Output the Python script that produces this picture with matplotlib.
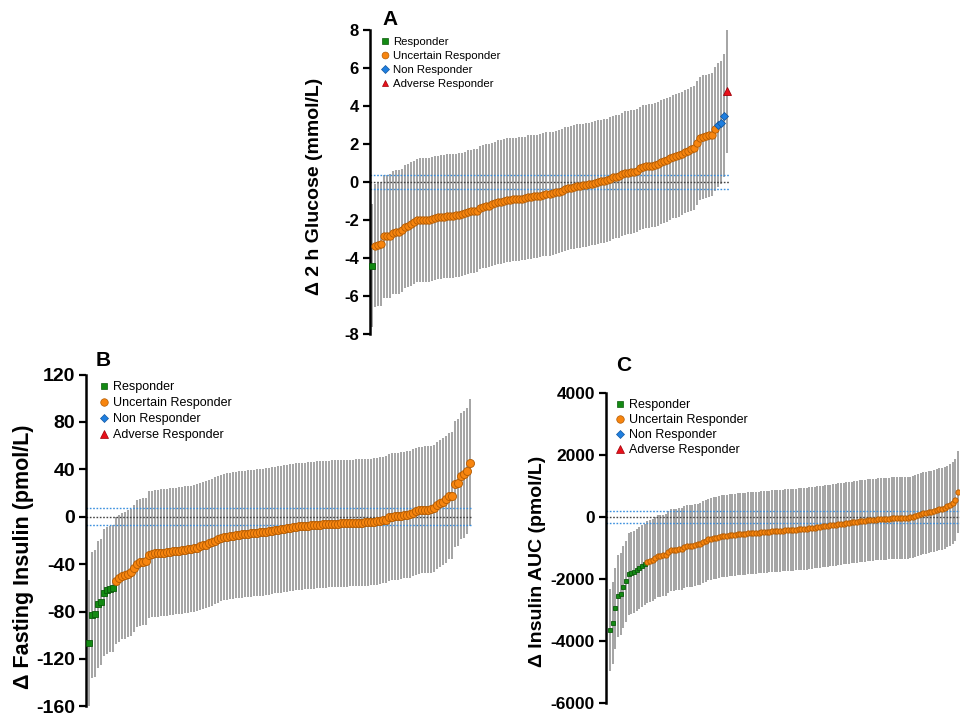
import numpy as np
import matplotlib
matplotlib.use("Agg")
import matplotlib.pyplot as plt
from matplotlib.lines import Line2D

plt.rcParams['font.family'] = ['Liberation Sans', 'DejaVu Sans']
plt.rcParams['axes.unicode_minus'] = False

# ---- data (sorted individual responses) ----
# Panel A: change in 2 h glucose (mmol/L)
a_responder = [-4.4]
a_uncertain = [-3.35, -3.3, -3.25, -2.86, -2.86, -2.84, -2.66, -2.64, -2.62, -2.55,
               -2.35, -2.3, -2.22, -2.12, -2.02, -2.0, -2.0, -2.0, -2.0, -1.95,
               -1.9, -1.86, -1.84, -1.82, -1.8, -1.78, -1.78, -1.76, -1.74, -1.7,
               -1.65, -1.58, -1.54, -1.52, -1.5, -1.35, -1.3, -1.26, -1.24, -1.18,
               -1.12, -1.06, -1.04, -1.0, -0.96, -0.94, -0.92, -0.91, -0.9, -0.88,
               -0.86, -0.8, -0.78, -0.76, -0.75, -0.72, -0.66, -0.64, -0.62, -0.6,
               -0.55, -0.5, -0.45, -0.38, -0.33, -0.3, -0.26, -0.22, -0.2, -0.18,
               -0.15, -0.12, -0.08, -0.05, 0.0, 0.03, 0.05, 0.08, 0.15, 0.25,
               0.28, 0.3, 0.4, 0.48, 0.5, 0.52, 0.55, 0.6, 0.72, 0.8,
               0.82, 0.84, 0.86, 0.9, 0.95, 1.05, 1.1, 1.15, 1.25, 1.33,
               1.36, 1.42, 1.5, 1.6, 1.65, 1.75, 1.8, 2.05, 2.3, 2.38,
               2.4, 2.45, 2.5, 2.78]
a_non = [3.0, 3.12, 3.5]
a_adverse = [4.78]
a_ci = 3.25          # half width of each individual's interval
a_band = 0.35        # dotted threshold lines

# Panel B: change in fasting insulin (pmol/L)
b_responder = [-107, -83, -82, -74, -72, -64, -62, -61, -60.5]
b_uncertain = [-54, -52, -50, -49.5, -48, -47, -43.5, -39.5, -38.5, -38,
               -37.5, -32, -31.5, -31, -30.8, -30.5, -30.3, -30, -29.5, -29.2,
               -29, -28.6, -28.3, -28, -27.6, -27.2, -26.8, -26, -25, -24.2,
               -23.5, -22.6, -21.5, -20.2, -19, -18, -17.2, -16.8, -16.3, -15.9,
               -15.5, -15.2, -14.9, -14.6, -14.3, -14, -13.7, -13.4, -13.2, -13,
               -12.7, -12.3, -11.8, -11.3, -10.9, -10.5, -10.1, -9.7, -9.3, -9.0,
               -8.6, -8.2, -8.0, -7.8, -7.6, -7.3, -7.1, -6.9, -6.7, -6.5,
               -6.3, -6.1, -6.0, -5.9, -5.8, -5.7, -5.6, -5.5, -5.4, -5.3,
               -5.2, -5.1, -5.0, -4.8, -4.6, -4.4, -4.1, -3.8, -3.3, -2.8,
               -2.4, -0.5, 0, 0.2, 0.5, 1.0, 1.4, 1.6, 2.0, 3.4,
               4.5, 5.5, 5.6, 5.8, 6.0, 6.4, 7.2, 9.5, 11.3, 12.5,
               14.7, 17.5, 17.8, 27.6, 28.8, 34.3, 35.8, 38.6, 45.6]
b_non = []
b_adverse = []
b_ci = 53.5
b_band = 7.0

# Panel C: change in insulin AUC (pmol/L)
c_responder = [-3650, -3430, -2950, -2560, -2490, -2260, -2080, -1850, -1800, -1770,
               -1700, -1640, -1590, -1530]
c_uncertain = [-1450, -1420, -1400, -1310, -1265, -1255, -1240, -1225, -1120, -1070,
               -1055, -1050, -1040, -1030, -960, -945, -935, -925, -905, -885,
               -860, -815, -765, -725, -700, -685, -665, -645, -625, -612,
               -600, -590, -580, -570, -560, -548, -540, -535, -528, -522,
               -515, -508, -500, -492, -485, -475, -468, -462, -455, -450,
               -442, -436, -430, -422, -415, -410, -405, -400, -395, -385,
               -375, -365, -352, -340, -325, -312, -305, -295, -285, -272,
               -262, -250, -238, -225, -212, -200, -188, -175, -162, -150,
               -140, -128, -118, -108, -97, -90, -82, -75, -68, -62,
               -55, -50, -45, -43, -42, -40, -38, -35, -30, -15,
               0, 25, 55, 85, 118, 135, 155, 175, 195, 220,
               245, 270, 300, 340, 390, 460, 540, 800]
c_non = []
c_adverse = []
c_ci = 1320
c_band = 200

groups = ['Responder', 'Uncertain Responder', 'Non Responder', 'Adverse Responder']
styles = {
    'Responder': dict(marker='s', mfc='#138a13', mec='#0a5a0a'),
    'Uncertain Responder': dict(marker='o', mfc='#f7850f', mec='#b35a00'),
    'Non Responder': dict(marker='D', mfc='#1f7fe0', mec='#1458a0'),
    'Adverse Responder': dict(marker='^', mfc='#e8101a', mec='#a00008'),
}

W, H = 960, 715


def panel(rect_px, series, ci, band, ylim, yticks, ylabel, letter, letter_px,
          leg_px, msize, leg_font, leg_space, first_px, last_px, lbl_size, lbl_xy, tick_size):
    l, t, r, b = rect_px
    ax = fig.add_axes([l / W, 1 - b / H, (r - l) / W, (b - t) / H])
    vals = np.concatenate([np.asarray(s, float) for s in series])
    n = len(vals)
    x = np.arange(n)
    # pixel -> data mapping along x so first/last points sit where they do in the picture
    step = (last_px - first_px) / (n - 1)
    ax.set_xlim((l - first_px) / step, (n - 1) + (r - last_px) / step)
    ax.set_ylim(*ylim)

    ax.vlines(x, vals - ci, vals + ci, color='#8c8c8c', lw=1.1, zorder=2)
    ax.axhline(0, color='#444444', lw=1.0, ls=(0, (1.2, 1.2)), zorder=2.5)
    ax.axhline(band, color='#3b8fde', lw=1.0, ls=(0, (1.2, 1.2)), zorder=2.5)
    ax.axhline(-band, color='#3b8fde', lw=1.0, ls=(0, (1.2, 1.2)), zorder=2.5)

    start = 0
    for name, s in zip(groups, series):
        if len(s):
            xs = x[start:start + len(s)]
            st = styles[name]
            k = 0.85 if st['marker'] == 's' else (0.75 if st['marker'] == 'D' else 1.0)
            ax.plot(xs, s, ls='none', marker=st['marker'], mfc=st['mfc'], mec=st['mec'],
                    mew=0.6, ms=msize * k, zorder=4, clip_on=False)
        start += len(s)

    for sp in ['top', 'right', 'bottom']:
        ax.spines[sp].set_visible(False)
    ax.spines['left'].set_linewidth(1.8)
    ax.set_xticks([])
    ax.set_yticks(yticks)
    ax.tick_params(axis='y', direction='out', length=5, width=1.6, labelsize=tick_size, pad=3)
    for lab in ax.get_yticklabels():
        lab.set_fontweight('bold')
    ax.set_ylabel(ylabel, fontsize=lbl_size, fontweight='bold')
    ax.yaxis.set_label_coords((lbl_xy[0] - l) / (r - l), (b - lbl_xy[1]) / (b - t))

    fig.text(letter_px[0] / W, 1 - letter_px[1] / H, letter, fontsize=15,
             fontweight='bold', ha='left', va='baseline')

    handles = []
    for name in groups:
        st = styles[name]
        handles.append(Line2D([], [], ls='none', marker=st['marker'], mfc=st['mfc'],
                              mec=st['mec'], mew=0.5,
                              ms=leg_font * (0.5 if st['marker'] in 'sD' else 0.6)))
    ax.legend(handles, groups, loc='upper left',
              bbox_to_anchor=(leg_px[0] / W, 1 - leg_px[1] / H),
              bbox_transform=fig.transFigure, frameon=False, fontsize=leg_font,
              handlelength=0.8, handletextpad=0.35, labelspacing=leg_space,
              borderpad=0, borderaxespad=0)
    return ax


fig = plt.figure(figsize=(9.6, 7.15), dpi=100)

panel((370, 30, 730, 334), [a_responder, a_uncertain, a_non, a_adverse], a_ci, a_band,
      (-8, 8), [-8, -6, -4, -2, 0, 2, 4, 6, 8], 'Δ 2 h Glucose (mmol/L)',
      'A', (382, 25), (380, 37), 5.3, 8.2, 0.36, 372, 727, 14, (323, 186.5), 12)

panel((86, 374.5, 473, 706.3), [b_responder, b_uncertain, b_non, b_adverse], b_ci, b_band,
      (-160, 120), [-160, -120, -80, -40, 0, 40, 80, 120], 'Δ Fasting Insulin (pmol/L)',
      'B', (96, 366), (99, 381), 5.8, 9.0, 0.33, 89, 470, 15.5, (34, 557), 14)

panel((606, 393, 960, 703), [c_responder, c_uncertain, c_non, c_adverse], c_ci, c_band,
      (-6000, 4000), [-6000, -4000, -2000, 0, 2000, 4000], 'Δ Insulin AUC (pmol/L)',
      'C', (616, 371), (615, 399), 3.8, 9.0, 0.24, 610, 958, 14, (546, 561), 12.5)

fig.savefig('out.png', dpi=100)
